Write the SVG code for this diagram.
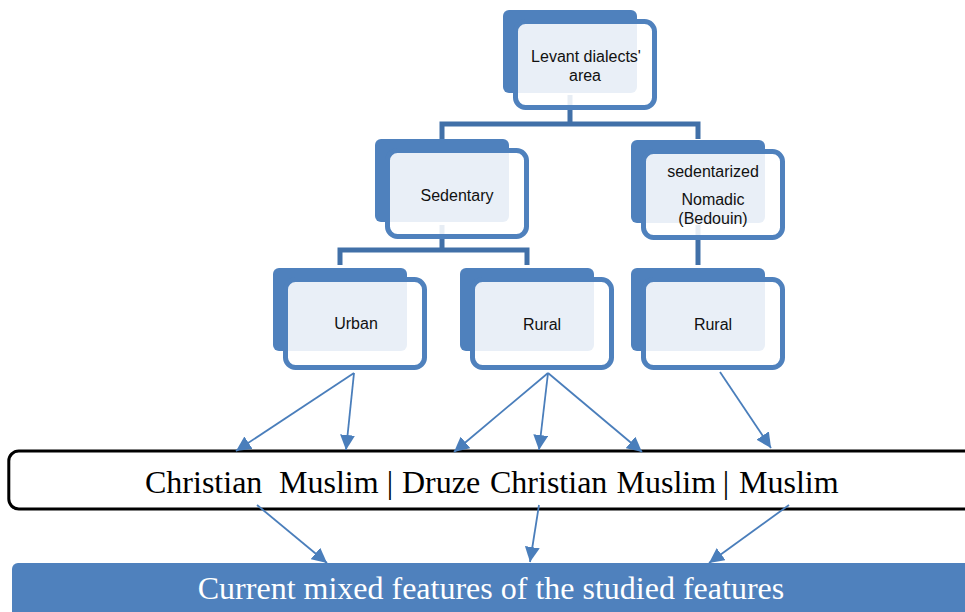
<svg xmlns="http://www.w3.org/2000/svg" width="965" height="612" viewBox="0 0 965 612">
<style>
.back{fill:#4F81BD}
.front{fill:#fff;fill-opacity:0.875;stroke:#4F81BD;stroke-width:5}
.lbl{font-family:"Liberation Sans",Arial,sans-serif;font-size:16px;fill:#111;text-anchor:middle}
.tree{fill:none;stroke:#4170A8;stroke-width:5}
.arr{fill:none;stroke:#4A7EBB;stroke-width:1.8;marker-end:url(#ah)}
.serif{font-family:"Liberation Serif","Times New Roman",serif;font-size:32px}
</style>
<defs>
<marker id="ah" viewBox="0 0 10 10" refX="10" refY="5" markerWidth="15" markerHeight="15" markerUnits="userSpaceOnUse" orient="auto">
<path d="M0,0 L10,5 L0,10 z" fill="#4A7EBB"/>
</marker>
</defs>
<rect width="965" height="612" fill="#fff"/>
<g id="tree-connectors">
<path class="tree" d="M570,95 V124 M442,139 V124 H698 V139"/>
<path class="tree" d="M442,225 V250 M340,265 V250 H527 V265"/>
<path class="tree" d="M698,225 V265"/>
</g>
<g id="n-levant">
<rect class="back" x="503" y="10" width="134" height="83" rx="6"/>
<rect class="front" x="515.5" y="21.5" width="139" height="86" rx="10"/>
<text class="lbl" x="586" y="62">Levant dialects'</text>
<text class="lbl" x="585" y="81">area</text>
</g>
<g id="n-sedentary">
<rect class="back" x="375" y="139" width="134" height="83" rx="6"/>
<rect class="front" x="387.5" y="150.5" width="139" height="86" rx="10"/>
<text class="lbl" x="457" y="201">Sedentary</text>
</g>
<g id="n-nomadic">
<rect class="back" x="631" y="140" width="134" height="83" rx="6"/>
<rect class="front" x="643.5" y="151.5" width="139" height="86" rx="10"/>
<text class="lbl" x="713" y="177">sedentarized</text>
<text class="lbl" x="713" y="205">Nomadic</text>
<text class="lbl" x="713" y="224">(Bedouin)</text>
</g>
<g id="n-urban">
<rect class="back" x="273" y="268" width="134" height="83" rx="6"/>
<rect class="front" x="285.5" y="279.5" width="139" height="88" rx="10"/>
<text class="lbl" x="356" y="329">Urban</text>
</g>
<g id="n-rural1">
<rect class="back" x="460" y="268" width="134" height="83" rx="6"/>
<rect class="front" x="472.5" y="279.5" width="139" height="88" rx="10"/>
<text class="lbl" x="542" y="330">Rural</text>
</g>
<g id="n-rural2">
<rect class="back" x="631" y="268" width="134" height="83" rx="6"/>
<rect class="front" x="643.5" y="279.5" width="139" height="88" rx="10"/>
<text class="lbl" x="713" y="330">Rural</text>
</g>
<g id="n-groups">
<rect x="8.8" y="451" width="1000" height="58" rx="10" fill="#fff" stroke="#000" stroke-width="3"/>
<text class="serif" y="493" fill="#000"><tspan x="145">Christian</tspan><tspan x="279">Muslim</tspan><tspan x="386.8">|</tspan><tspan x="402">Druze</tspan><tspan x="490">Christian</tspan><tspan x="616.5">Muslim</tspan><tspan x="722.8">|</tspan><tspan x="739">Muslim</tspan></text>
</g>
<g id="n-result">
<rect x="12" y="563" width="1000" height="60" rx="6" fill="#4F81BD"/>
<text class="serif" x="491" y="599" fill="#fff" text-anchor="middle">Current mixed features of the studied features</text>
</g>
<g id="connectors">
<line class="arr" x1="354" y1="373" x2="236" y2="451"/>
<line class="arr" x1="354" y1="373" x2="346" y2="450"/>
<line class="arr" x1="548" y1="373" x2="454" y2="452"/>
<line class="arr" x1="548" y1="373" x2="539" y2="450"/>
<line class="arr" x1="548" y1="373" x2="642" y2="452"/>
<line class="arr" x1="720" y1="372" x2="771" y2="448"/>
<line class="arr" x1="257" y1="505" x2="327" y2="563"/>
<line class="arr" x1="539" y1="505" x2="530" y2="562"/>
<line class="arr" x1="789" y1="505" x2="709" y2="563"/>
</g>
</svg>
